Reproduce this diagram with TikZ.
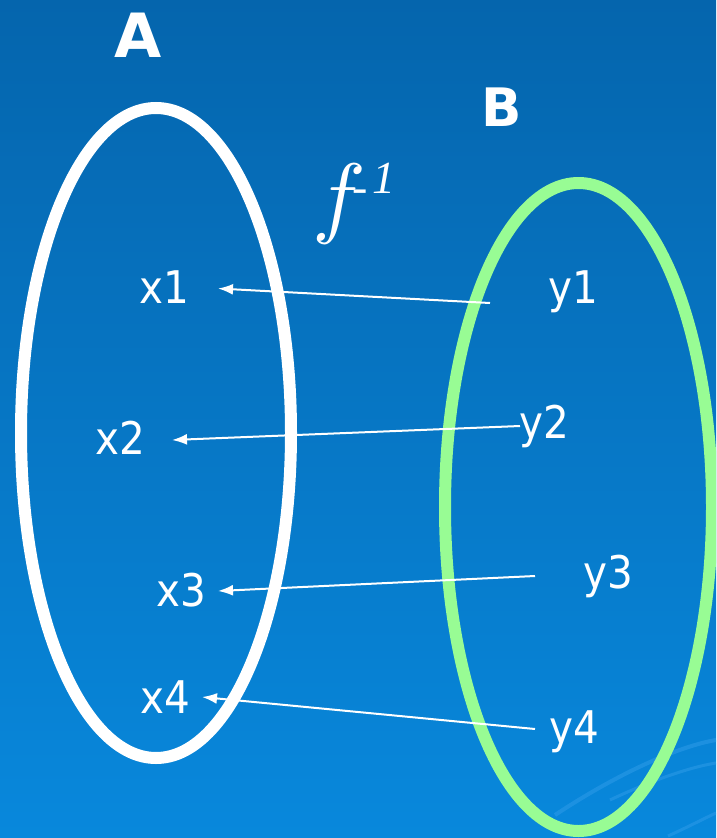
\documentclass[tikz,border=0pt]{standalone}
\usepackage{fontspec}
\usepackage{unicode-math}
\usetikzlibrary{arrows.meta}
\newfontfamily\lblfont{DejaVu Sans}[FakeStretch=0.9]
\newfontfamily\hdrfont{DejaVu Sans}
\newfontfamily\serfont{Liberation Serif}
\definecolor{bgtop}{HTML}{0565AD}
\definecolor{bgmid}{HTML}{056CB5}
\definecolor{bgbot}{HTML}{0888DC}
\definecolor{setgreen}{RGB}{152,252,148}
\definecolor{swooshc}{HTML}{2E9BE8}
\begin{document}
\begin{tikzpicture}[x=1pt,y=-1pt,
  lbl/.style={inner sep=0pt, anchor=base, text=white, font=\lblfont\fontsize{45}{45}\selectfont},
  hdr/.style={inner sep=0pt, anchor=base, text=white},
  setA/.style={draw=white, line width=12pt},
  setB/.style={draw=setgreen, line width=12pt},
  mapto/.style={draw=white, line width=2pt, -{Latex[length=15pt,width=11pt]}},
  swoosh/.style={line width=4pt, draw=swooshc, opacity=0.55}]
\useasboundingbox (0,0) rectangle (716,838);
\clip (0,0) rectangle (716,838);
\fill[top color=bgtop, middle color=bgmid, bottom color=bgbot] (0,0) rectangle (716,838);
% faint swooshes
\draw[swoosh] (555,815) .. controls (620,772) and (680,746) .. (716,740);
\draw[swoosh, line width=3pt] (610,800) .. controls (650,781) and (690,767) .. (716,763);
\draw[swoosh, line width=3pt] (668,836) .. controls (690,826) and (705,818) .. (716,813);
% sets
\draw[setA] (156,433) ellipse [x radius=135, y radius=325];
\draw[setB] (578.5,507) ellipse [x radius=133.5, y radius=324];
% headings
\node[hdr, font=\hdrfont\bfseries\fontsize{61}{61}\selectfont] (A) at (138,57) {A};
\node[hdr, font=\hdrfont\bfseries\fontsize{53}{53}\selectfont] (B) at (502,126.7) {B};
% f^{-1}
\node[inner sep=0pt, anchor=base west, text=white] (finv) at (312,226)
  {\fontsize{90}{90}\selectfont\rlap{$f$}\kern40.7pt\serfont\itshape\fontsize{46}{46}\selectfont\raisebox{24pt}{-}\kern4.7pt\raisebox{33pt}{1}};
% elements
\node[lbl] (x1) at (164,303) {x1};
\node[lbl] (x2) at (120,454) {x2};
\node[lbl] (x3) at (181,606) {x3};
\node[lbl] (x4) at (165.5,713) {x4};
\node[lbl] (y1) at (573,303) {y1};
\node[lbl] (y2) at (544.5,438) {y2};
\node[lbl] (y3) at (608.5,588) {y3};
\node[lbl] (y4) at (574,743) {y4};
% arrow ends
\coordinate (t1) at (490,303);
\coordinate (h1) at (218,288.5);
\coordinate (t2) at (520,426);
\coordinate (h2) at (172,440);
\coordinate (t3) at (535,576);
\coordinate (h3) at (218,591);
\coordinate (t4) at (535,729);
\coordinate (h4) at (202,697);
\draw[mapto] (t1) -- (h1);
\draw[mapto] (t2) -- (h2);
\draw[mapto] (t3) -- (h3);
\draw[mapto] (t4) -- (h4);
\end{tikzpicture}
\end{document}
